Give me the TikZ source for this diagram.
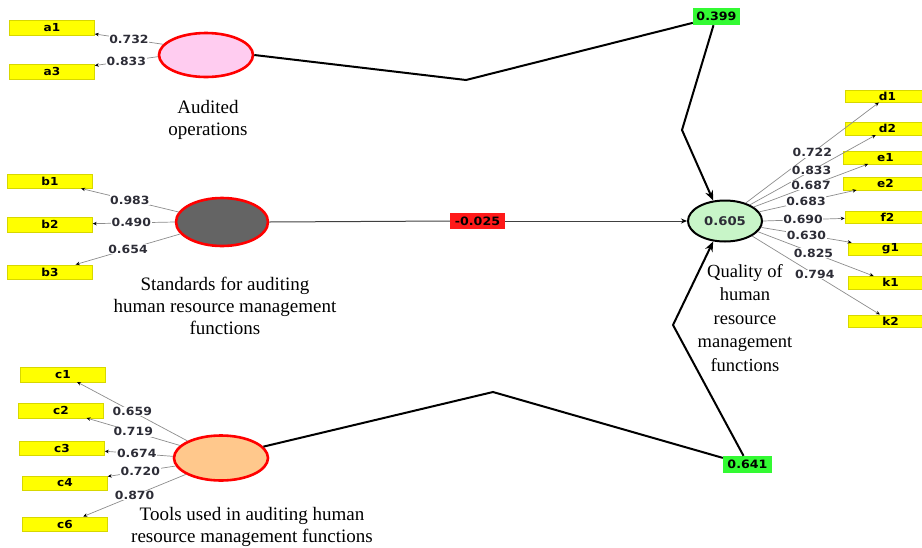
\documentclass[tikz,border=0pt]{standalone}
\usepackage{fontspec}
\setmainfont{Liberation Serif}
\newfontfamily\numfont{DejaVu Sans}[FakeStretch=1.1]
\usetikzlibrary{arrows.meta,shapes.geometric}
\definecolor{indyellow}{RGB}{255,255,0}
\definecolor{indedge}{RGB}{215,215,0}
\definecolor{pinkfill}{RGB}{255,204,240}
\definecolor{grayfill}{RGB}{100,100,100}
\definecolor{peachfill}{RGB}{255,200,140}
\definecolor{lgreen}{RGB}{200,245,200}
\definecolor{cgreen}{RGB}{51,250,51}
\definecolor{cred}{RGB}{255,25,25}
\definecolor{lblcol}{RGB}{45,45,55}
\begin{document}
\begin{tikzpicture}[x=1pt,y=-1pt,
  ind/.style={draw=indedge, fill=indyellow, line width=0.5pt, minimum width=85pt,
    minimum height=14.5pt, inner sep=0pt, font=\numfont\bfseries\fontsize{11}{12}\selectfont},
  indr/.style={ind, minimum height=12.5pt},
  lat/.style={ellipse, draw=red, line width=2.6pt, inner sep=0pt},
  load/.style={draw=black!45, line width=0.7pt, -{Stealth[length=4pt,width=3.5pt,black]}},
  lbl/.style={fill=white, inner sep=0.6pt, pos=0.5, text=lblcol,
    font=\numfont\bfseries\fontsize{11.3}{12}\selectfont},
  inner/.style={draw=black, line width=2pt},
  innerarrow/.style={inner, -{Stealth[length=10pt,width=8pt]}},
  bpath/.style={draw=black!75, line width=1pt},
  coef/.style={inner sep=0pt, minimum height=17pt,
    font=\numfont\bfseries\fontsize{11.5}{12}\selectfont},
  title/.style={align=center, font=\fontsize{19}{22}\selectfont}
]
\useasboundingbox (0,0) rectangle (922,547);

% latent variables
\node[lat, fill=pinkfill, minimum width=94pt, minimum height=44pt] (A) at (206,55) {};
\node[lat, fill=grayfill, minimum width=92pt, minimum height=48pt] (B) at (222,222) {};
\node[lat, fill=peachfill, minimum width=94pt, minimum height=45pt] (C) at (221,458) {};
\node[ellipse, draw=black, line width=2pt, fill=lgreen, minimum width=74pt, minimum height=41pt,
  inner sep=0pt, font=\numfont\bfseries\fontsize{12}{13}\selectfont, text=lblcol] (T) at (725,221) {0.605};

% indicators left
\node[ind] (a1) at (52,27.5) {a1};
\node[ind] (a3) at (52,71.5) {a3};
\node[ind] (b1) at (50,181) {b1};
\node[ind] (b2) at (50,224.5) {b2};
\node[ind] (b3) at (50,272) {b3};
\node[ind] (c1) at (63,374.5) {c1};
\node[ind] (c2) at (61,410.5) {c2};
\node[ind] (c3) at (62,448) {c3};
\node[ind] (c4) at (65,483) {c4};
\node[ind] (c6) at (65,524) {c6};

% indicators right
\node[indr] (d1) at (887.5,96) {d1};
\node[indr] (d2) at (887.5,128.5) {d2};
\node[indr] (e1) at (885.5,157.5) {e1};
\node[indr] (e2) at (885.5,183.5) {e2};
\node[indr] (f2) at (887.5,217) {f2};
\node[indr] (g1) at (890.5,249) {g1};
\node[indr] (k1) at (890.5,282.5) {k1};
\node[indr] (k2) at (890.5,321) {k2};

% titles
\node[title] (tA) at (208,120) {Audited\\operations};
\node[title] (tB) at (225,306) {Standards for auditing\\human resource management\\functions};
\node[title] (tC) at (252,527) {Tools used in auditing human\\resource management functions};
\node[title, font=\fontsize{18.5}{23.5}\selectfont] (tT) at (745,318) {Quality of\\human\\resource\\management\\functions};

% path coefficients
\node[coef, fill=cgreen, minimum width=47pt] (p399) at (716.5,16.5) {0.399};
\node[coef, fill=cred, minimum width=55pt, minimum height=16pt] (p025) at (477.5,221) {-0.025};
\node[coef, fill=cgreen, minimum width=49pt] (p641) at (747.5,464.5) {0.641};

% loadings left
\draw[load] (A.166) -- node[lbl]{0.732} (a1);
\draw[load] (A.182) -- node[lbl]{0.833} (a3);
\draw[load] (B.167) -- node[lbl]{0.983} (b1);
\draw[load] (B.180) -- node[lbl, pos=0.53]{0.490} (b2);
\draw[load] (B.196) -- node[lbl]{0.654} (b3);
\draw[load] (C.153) -- node[lbl]{0.659} (c1);
\draw[load] (C.163) -- node[lbl]{0.719} (c2);
\draw[load] (C.178) -- node[lbl, pos=0.53]{0.674} (c3);
\draw[load] (C.190) -- node[lbl, pos=0.52]{0.720} (c4);
\draw[load] (C.205) -- node[lbl]{0.870} (c6);

% loadings right
\draw[load] (T.41) -- node[lbl]{0.722} (d1);
\draw[load] (T.33) -- node[lbl, pos=0.49]{0.833} (d2);
\draw[load] (T.26) -- node[lbl]{0.687} (e1);
\draw[load] (T.15) -- node[lbl, pos=0.48]{0.683} (e2);
\draw[load] (T.0) -- node[lbl, pos=0.49]{0.690} (f2);
\draw[load] (T.350) -- node[lbl]{0.630} (g1);
\draw[load] (T.342) -- node[lbl, pos=0.48]{0.825} (k1);
\draw[load] (T.331) -- node[lbl, pos=0.49]{0.794} (k2);

% structural paths
\coordinate (ka1) at (466,80);
\coordinate (ka2) at (682,130);
\coordinate (kc1) at (493,392);
\coordinate (kc2) at (673,325);
\draw[inner] (A.east) -- (ka1) -- (p399.195);
\draw[innerarrow] ([xshift=-3pt]p399.south) -- (ka2) -- (T.120);
\draw[bpath] (B.east) -- (p025.west);
\draw[bpath, -{Stealth[length=6pt,width=5pt,black]}] (p025.east) -- (T.west);
\draw[inner] (C.15) -- (kc1) -- (p641.165);
\draw[innerarrow] ([xshift=-4pt]p641.north) -- (kc2) -- (T.240);
\end{tikzpicture}
\end{document}
